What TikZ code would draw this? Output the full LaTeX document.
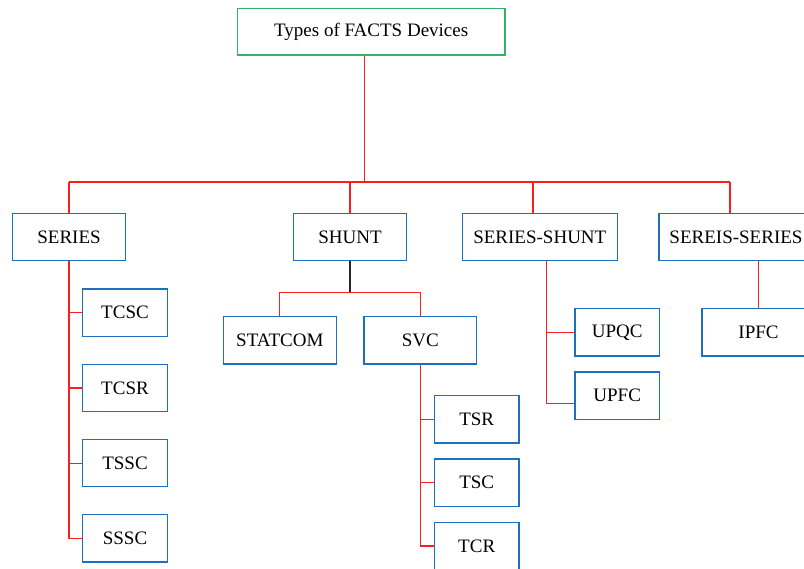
\documentclass[tikz,border=0pt]{standalone}
\usepackage{fontspec}
\setmainfont{Liberation Serif}
\definecolor{redline}{RGB}{255,30,30}
\definecolor{boxblue}{RGB}{30,112,190}
\definecolor{boxgreen}{RGB}{50,180,100}
\tikzset{
  box/.style={draw=boxblue, line width=1.2pt, fill=white, inner sep=0pt,
    font=\fontsize{19}{21}\selectfont, text=black},
  wide/.style={box, minimum width=112.7pt, minimum height=47pt},
  small/.style={box, minimum width=84.6pt, minimum height=47.4pt},
  conn/.style={draw=redline, line width=1.1pt},
  connb/.style={draw=black!85, line width=1.1pt}
}
\begin{document}
\begin{tikzpicture}[x=1pt,y=-1pt]
\clip (0,0) rectangle (804,569);
\fill[white] (0,0) rectangle (804,569);
% nodes
\node[box, draw=boxgreen, minimum width=267.7pt, minimum height=46.7pt] (top) at (371.2,31.7) {Types of FACTS Devices};
\node[wide] (series) at (69,237.2) {SERIES};
\node[wide] (shunt) at (350,237.2) {SHUNT};
\node[wide, minimum width=155pt] (sershunt) at (539.8,237.2) {SERIES-SHUNT};
\node[wide, minimum width=154pt] (serser) at (736,237.2) {SEREIS-SERIES};
\node[small] (tcsc) at (125,312.8) {TCSC};
\node[small] (tcsr) at (125,388) {TCSR};
\node[small] (tssc) at (125,463.2) {TSSC};
\node[small] (sssc) at (125,538.3) {SSSC};
\node[wide, minimum width=113pt, minimum height=47.3pt] (statcom) at (279.8,340.4) {STATCOM};
\node[wide, minimum height=47.3pt] (svc) at (420.3,340.4) {SVC};
\node[small] (tsr) at (476.7,419.3) {TSR};
\node[small] (tsc) at (476.7,482.8) {TSC};
\node[small] (tcr) at (476.7,546) {TCR};
\node[small, minimum width=84.3pt] (upqc) at (617.2,332.3) {UPQC};
\node[small, minimum width=84.3pt] (upfc) at (617.2,395.7) {UPFC};
\node[wide, minimum width=113pt, minimum height=47.3pt] (ipfc) at (758.5,332.3) {IPFC};
% helper coordinates
\coordinate (topdrop) at ([xshift=-6.9pt]top.south);
\coordinate (bus) at (0,182);
\coordinate (shj) at (0,292.7);
\coordinate (ssdrop) at ([xshift=-6.8pt]sershunt.north);
\coordinate (ssbot) at ([xshift=6.9pt]sershunt.south);
\coordinate (srdrop) at ([xshift=-6pt]serser.north);
% main tree
\draw[conn] (topdrop) -- (topdrop |- bus);
\draw[conn] (series.north |- bus) -- (srdrop |- bus);
\draw[conn] (series.north) -- (series.north |- bus);
\draw[conn] (shunt.north) -- (shunt.north |- bus);
\draw[conn] (ssdrop) -- (ssdrop |- bus);
\draw[conn] (srdrop) -- (srdrop |- bus);
% series branch
\draw[conn] (series.south) |- (sssc.west);
\draw[conn] (tcsc.west) -- (tcsc.west -| series.south);
\draw[conn] (tcsr.west) -- (tcsr.west -| series.south);
\draw[conn] (tssc.west) -- (tssc.west -| series.south);
% shunt branch
\draw[connb] (shunt.south) -- (shunt.south |- shj);
\draw[conn] (statcom.north) -- (statcom.north |- shj) -- (svc.north |- shj) -- (svc.north);
\draw[conn] (svc.south) |- (tcr.west);
\draw[conn] (tsr.west) -- (tsr.west -| svc.south);
\draw[conn] (tsc.west) -- (tsc.west -| svc.south);
% series-shunt branch
\draw[conn] (ssbot) |- ([yshift=-8pt]upfc.west);
\draw[conn] (upqc.west) -- (upqc.west -| ssbot);
% series-series branch
\draw[conn] (ipfc.north) -- (ipfc.north |- serser.south);
\end{tikzpicture}
\end{document}
